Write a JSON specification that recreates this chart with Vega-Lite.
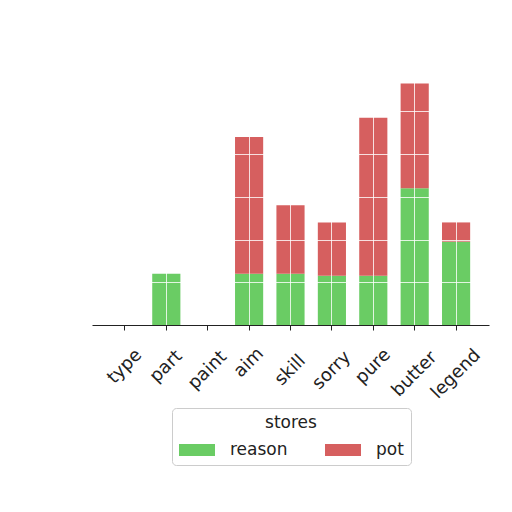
{
  "$schema": "https://vega.github.io/schema/vega-lite/v6.json",
  "autosize": "none",
  "width": 397,
  "height": 253,
  "padding": {"left": 92, "top": 72, "right": 23, "bottom": 187},
  "config": {
    "view": {"stroke": null},
    "font": "DejaVu Sans"
  },
  "data": {
    "values": [
      {"item": "type", "stores": "reason", "amount": 0},
      {"item": "type", "stores": "pot", "amount": 0},
      {"item": "part", "stores": "reason", "amount": 12},
      {"item": "part", "stores": "pot", "amount": 0},
      {"item": "paint", "stores": "reason", "amount": 0},
      {"item": "paint", "stores": "pot", "amount": 0},
      {"item": "aim", "stores": "reason", "amount": 12},
      {"item": "aim", "stores": "pot", "amount": 32},
      {"item": "skill", "stores": "reason", "amount": 12},
      {"item": "skill", "stores": "pot", "amount": 16},
      {"item": "sorry", "stores": "reason", "amount": 11.5},
      {"item": "sorry", "stores": "pot", "amount": 12.5},
      {"item": "pure", "stores": "reason", "amount": 11.5},
      {"item": "pure", "stores": "pot", "amount": 37},
      {"item": "butter", "stores": "reason", "amount": 32},
      {"item": "butter", "stores": "pot", "amount": 24.5},
      {"item": "legend", "stores": "reason", "amount": 19.5},
      {"item": "legend", "stores": "pot", "amount": 4.5}
    ]
  },
  "mark": {"type": "bar"},
  "encoding": {
    "x": {
      "field": "item",
      "type": "nominal",
      "sort": null,
      "scale": {"paddingInner": 0.32, "paddingOuter": 0.455},
      "axis": {
        "title": null,
        "zindex": 1,
        "grid": true,
        "gridColor": "white",
        "gridOpacity": 0.8,
        "domainColor": "#222",
        "domainWidth": 1.2,
        "tickColor": "#222",
        "tickSize": 5,
        "labelAngle": -45,
        "labelAlign": "center",
        "labelBaseline": "middle",
        "labelPadding": {"expr": "21 + 3.8 * length(datum.label)"},
        "labelFontSize": 18,
        "labelColor": "#222"
      }
    },
    "y": {
      "field": "amount",
      "type": "quantitative",
      "stack": "zero",
      "scale": {"domain": [0, 59.2], "nice": false},
      "axis": {
        "title": null,
        "zindex": 1,
        "grid": true,
        "gridColor": "white",
        "gridOpacity": 0.8,
        "domain": false,
        "ticks": false,
        "labels": false,
        "values": [10, 20, 30, 40, 50]
      }
    },
    "color": {
      "field": "stores",
      "type": "nominal",
      "scale": {"domain": ["reason", "pot"], "range": ["#6acc64", "#d65f5f"]},
      "legend": {
        "orient": "none",
        "legendX": 80,
        "legendY": 336,
        "direction": "horizontal",
        "columns": 2,
        "title": "stores",
        "titleFontSize": 17,
        "titleFontWeight": "normal",
        "titleColor": "#222",
        "titleAnchor": "middle",
        "titlePadding": 0,
        "labelFontSize": 17,
        "labelColor": "#222",
        "labelOffset": 15,
        "columnPadding": 37,
        "symbolType": "M-1,-0.333H1V0.333H-1Z",
        "symbolSize": 1296,
        "symbolStrokeWidth": 0,
        "symbolOpacity": 1,
        "padding": 7,
        "fillColor": "white",
        "strokeColor": "#cccccc",
        "cornerRadius": 4
      }
    },
    "order": {"field": "stores", "sort": "descending"}
  }
}
